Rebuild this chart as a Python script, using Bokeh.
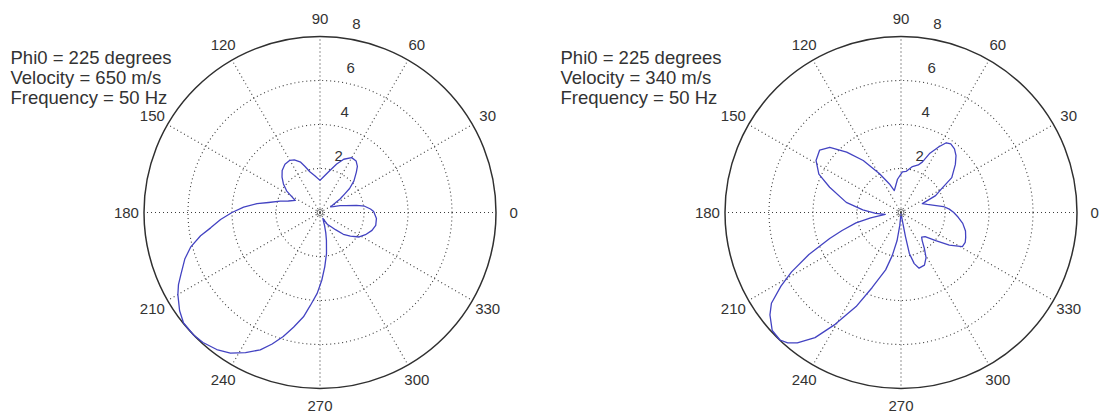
import math

from bokeh.core.properties import value
from bokeh.embed import file_html
from bokeh.layouts import row
from bokeh.models import ColumnDataSource, Range1d
from bokeh.plotting import figure
from bokeh.resources import INLINE

# Beam pattern, 650 m/s: direction (degrees) and amplitude
left_theta = [1, 4, 8, 11, 15, 19, 24, 28, 34, 37, 39, 43, 48, 51, 55, 60, 66, 71, 77, 85,
              90, 98, 104, 108, 111, 116, 120, 126, 132, 137, 142, 147, 150, 154, 160, 164,
              169, 172, 176, 180, 184, 188, 191, 195, 199, 204, 207, 210, 215, 219, 224,
              228, 233, 237.5, 242, 246.5, 250, 253.5, 257, 261, 264, 268, 271.5, 275, 279,
              283, 286, 289, 292.5, 296, 302, 308, 312, 317, 322, 328, 334, 341, 347, 354]
left_r = [2.44, 2.30, 2.05, 1.69, 1.20, 0.96, 0.66, 0.55, 1.10, 1.41, 1.73, 2.11, 2.47, 2.70,
          2.86, 2.88, 2.65, 2.33, 1.95, 1.61, 1.46, 1.69, 1.91, 2.20, 2.45, 2.66, 2.74, 2.71,
          2.57, 2.36, 2.11, 1.81, 1.53, 1.25, 1.53, 1.88, 2.38, 2.89, 3.48, 4.00, 4.53, 5.02,
          5.53, 6.09, 6.50, 6.92, 7.22, 7.46, 7.79, 7.98, 8.00, 7.95, 7.80, 7.58, 7.21, 6.81,
          6.36, 5.88, 5.35, 4.80, 4.26, 3.68, 3.08, 2.48, 1.89, 1.30, 0.95, 0.65, 0.39, 0.30,
          0.65, 0.82, 1.05, 1.45, 1.75, 2.10, 2.30, 2.50, 2.60, 2.58]

# Beam pattern, 340 m/s
right_theta = [0, 4, 8, 12, 17, 22.5, 26, 30, 34.5, 41.5, 46, 50, 54, 57, 60, 64, 67, 70, 76,
               83, 88, 96, 101, 107, 112, 119, 126, 132, 137.5, 142.5, 148.5, 155, 160.5,
               169.5, 176, 182, 187, 190, 193, 197, 200, 204.5, 208.5, 211.5, 215, 218, 222.5,
               226.5, 229, 231.5, 235.5, 239.5, 244.5, 249, 255, 258.5, 262, 264.5, 268, 276,
               279.5, 280.5, 281.5, 284.5, 288, 294, 299, 303, 307, 310, 315, 321, 326, 331,
               335, 339, 344, 350, 355]
right_r = [2.40, 2.20, 1.95, 1.55, 1.25, 1.05, 1.75, 2.10, 2.80, 3.30, 3.60, 3.78, 3.85, 3.78,
           3.45, 3.00, 2.50, 2.30, 2.15, 1.88, 1.85, 1.52, 1.25, 1.04, 1.40, 2.01, 2.92, 3.69,
           4.39, 4.66, 4.53, 4.12, 3.44, 2.53, 1.74, 1.15, 0.72, 1.40, 2.10, 2.80, 3.45, 4.60,
           5.66, 6.40, 7.19, 7.56, 7.94, 7.99, 7.85, 7.57, 6.90, 5.90, 4.74, 3.65, 2.70, 2.00,
           1.30, 0.60, 0.08, 0.08, 0.35, 1.10, 1.90, 2.40, 2.66, 2.62, 2.35, 1.95, 1.60, 1.46,
           1.55, 2.03, 2.65, 3.19, 3.22, 3.15, 3.05, 2.85, 2.62]

r_max = 8
ring_radii = [2, 4, 6]
ring_labels = ["2", "4", "6", "8"]
spoke_angles = [0, 30, 60, 90, 120, 150, 180, 210, 240, 270, 300, 330]
spoke_labels = [str(a) for a in spoke_angles]

info_left = ["Phi0 = 225 degrees", "Velocity = 650 m/s", "Frequency = 50 Hz"]
info_right = ["Phi0 = 225 degrees", "Velocity = 340 m/s", "Frequency = 50 Hz"]

FONT = value("Liberation Sans")
TEXT_COLOR = "#333333"
GRID_COLOR = "#3c3c3c"
CURVE_COLOR = "#4343c2"
PX_PER_UNIT = 22.0
HEIGHT = 416


def polar_panel(theta, r, info, width, cx, cy):
    s = PX_PER_UNIT
    p = figure(width=width, height=HEIGHT,
               x_range=Range1d(-cx / s, (width - cx) / s),
               y_range=Range1d(-(HEIGHT - cy) / s, cy / s),
               x_axis_type=None, y_axis_type=None,
               output_backend="svg", toolbar_location=None, min_border=0)
    p.grid.visible = False
    p.outline_line_color = None
    p.background_fill_color = "white"
    p.border_fill_color = "white"

    # dotted spokes and rings
    rad = [math.radians(a) for a in spoke_angles]
    p.segment(x0=[0] * len(rad), y0=[0] * len(rad),
              x1=[r_max * math.cos(t) for t in rad], y1=[r_max * math.sin(t) for t in rad],
              line_color=GRID_COLOR, line_width=1.1, line_dash="1 3")
    p.circle(x=[0] * len(ring_radii), y=[0] * len(ring_radii), radius=ring_radii,
             fill_color=None, line_color=GRID_COLOR, line_width=1.1, line_dash="1 3")
    # solid outer boundary
    p.circle(x=[0], y=[0], radius=[r_max], fill_color=None,
             line_color="#303030", line_width=1.5)

    # angle labels around the rim
    p.text(x=[1.1 * r_max * math.cos(t) for t in rad],
           y=[1.1 * r_max * math.sin(t) for t in rad],
           text=spoke_labels, text_font=FONT, text_font_size="15px",
           text_align="center", text_baseline="middle", text_color=TEXT_COLOR)
    # ring labels
    ring_vals = ring_radii + [r_max]
    p.text(x=[0.58 + 0.135 * v for v in ring_vals], y=[v + 0.55 for v in ring_vals],
           text=ring_labels, text_font=FONT, text_font_size="15px",
           text_align="center", text_baseline="middle", text_color=TEXT_COLOR)

    # pattern curve (closed)
    th = [math.radians(t) for t in theta] + [math.radians(theta[0])]
    rr = list(r) + [r[0]]
    src = ColumnDataSource(dict(x=[a * math.cos(t) for a, t in zip(rr, th)],
                                y=[a * math.sin(t) for a, t in zip(rr, th)]))
    p.line("x", "y", source=src, line_color=CURVE_COLOR, line_width=1.3,
           line_join="round")

    # origin marker
    p.scatter(x=[0], y=[0], marker="circle", size=6, fill_color=None,
              line_color="#666666", line_width=1)

    # parameter annotation
    left_px = 10
    baselines = [57, 77, 97]
    p.text(x=[(left_px - cx) / s] * 3, y=[(cy - b) / s for b in baselines], text=info,
           text_font=FONT, text_font_size="18.5px", text_align="left",
           text_baseline="alphabetic", text_color=TEXT_COLOR)
    return p


p1 = polar_panel(left_theta, left_r, info_left, 550, 319.5, 212)
p2 = polar_panel(right_theta, right_r, info_right, 549, 350.5, 212)
layout = row(p1, p2)

open("out.html", "w").write(file_html(layout, INLINE))
